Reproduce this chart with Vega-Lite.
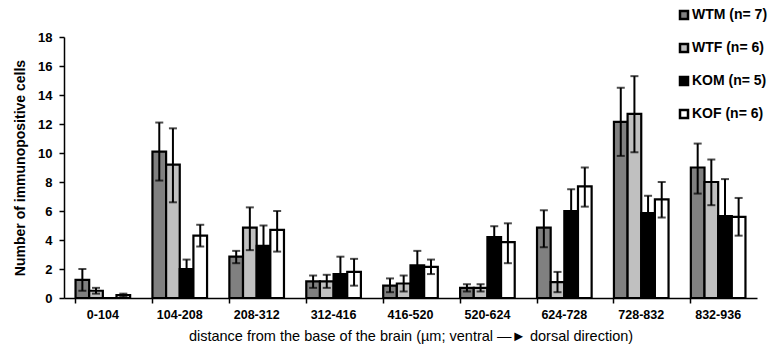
{
  "$schema": "https://vega.github.io/schema/vega-lite/v6.json",
  "autosize": "none",
  "width": 693,
  "height": 261,
  "padding": {"left": 64, "top": 37, "right": 19, "bottom": 56},
  "background": "white",
  "config": {
    "view": {"stroke": null},
    "font": "Liberation Sans",
    "axis": {"domainColor": "black", "tickColor": "black", "domainWidth": 1.5, "tickWidth": 1.5, "labelColor": "black", "titleColor": "black", "grid": false},
    "axisY": {"values": [0, 2, 4, 6, 8, 10, 12, 14, 16, 18], "labelOverlap": false, "labelFont": "Liberation Sans", "labelFontSize": 13, "labelFontWeight": "bold", "labelPadding": 7, "tickSize": 5, "titleFont": "Liberation Sans", "titleFontSize": 14, "titleFontWeight": "bold", "titlePadding": 10}
  },
  "data": {
    "values": [
      {"range": "0-104", "group": "WTM", "mean": 1.25, "lo": 0.5, "hi": 2.0},
      {"range": "0-104", "group": "WTF", "mean": 0.5, "lo": 0.3, "hi": 0.7},
      {"range": "0-104", "group": "KOM", "mean": 0, "lo": 0, "hi": 0},
      {"range": "0-104", "group": "KOF", "mean": 0.2, "lo": 0.1, "hi": 0.3},
      {"range": "104-208", "group": "WTM", "mean": 10.1, "lo": 8.1, "hi": 12.1},
      {"range": "104-208", "group": "WTF", "mean": 9.2, "lo": 6.6, "hi": 11.7},
      {"range": "104-208", "group": "KOM", "mean": 2.0, "lo": 1.35, "hi": 2.65},
      {"range": "104-208", "group": "KOF", "mean": 4.3, "lo": 3.55, "hi": 5.05},
      {"range": "208-312", "group": "WTM", "mean": 2.85, "lo": 2.4, "hi": 3.25},
      {"range": "208-312", "group": "WTF", "mean": 4.85, "lo": 3.3, "hi": 6.25},
      {"range": "208-312", "group": "KOM", "mean": 3.6, "lo": 2.2, "hi": 5.0},
      {"range": "208-312", "group": "KOF", "mean": 4.7, "lo": 3.2, "hi": 6.0},
      {"range": "312-416", "group": "WTM", "mean": 1.15, "lo": 0.7, "hi": 1.55},
      {"range": "312-416", "group": "WTF", "mean": 1.15, "lo": 0.7, "hi": 1.6},
      {"range": "312-416", "group": "KOM", "mean": 1.65, "lo": 0.45, "hi": 2.85},
      {"range": "312-416", "group": "KOF", "mean": 1.8, "lo": 0.85, "hi": 2.7},
      {"range": "416-520", "group": "WTM", "mean": 0.85, "lo": 0.4, "hi": 1.35},
      {"range": "416-520", "group": "WTF", "mean": 1.0, "lo": 0.45, "hi": 1.55},
      {"range": "416-520", "group": "KOM", "mean": 2.25, "lo": 1.25, "hi": 3.25},
      {"range": "416-520", "group": "KOF", "mean": 2.15, "lo": 1.65, "hi": 2.65},
      {"range": "520-624", "group": "WTM", "mean": 0.7, "lo": 0.45, "hi": 0.95},
      {"range": "520-624", "group": "WTF", "mean": 0.7, "lo": 0.45, "hi": 0.95},
      {"range": "520-624", "group": "KOM", "mean": 4.2, "lo": 3.4, "hi": 4.95},
      {"range": "520-624", "group": "KOF", "mean": 3.85, "lo": 2.4, "hi": 5.15},
      {"range": "624-728", "group": "WTM", "mean": 4.85, "lo": 3.5, "hi": 6.05},
      {"range": "624-728", "group": "WTF", "mean": 1.1, "lo": 0.4, "hi": 1.8},
      {"range": "624-728", "group": "KOM", "mean": 6.0, "lo": 4.5, "hi": 7.5},
      {"range": "624-728", "group": "KOF", "mean": 7.7, "lo": 6.3, "hi": 9.0},
      {"range": "728-832", "group": "WTM", "mean": 12.15, "lo": 9.8, "hi": 14.5},
      {"range": "728-832", "group": "WTF", "mean": 12.7, "lo": 10.05, "hi": 15.3},
      {"range": "728-832", "group": "KOM", "mean": 5.85, "lo": 4.65, "hi": 7.05},
      {"range": "728-832", "group": "KOF", "mean": 6.8, "lo": 5.55, "hi": 8.0},
      {"range": "832-936", "group": "WTM", "mean": 9.0, "lo": 7.2, "hi": 10.65},
      {"range": "832-936", "group": "WTF", "mean": 8.0, "lo": 6.4, "hi": 9.55},
      {"range": "832-936", "group": "KOM", "mean": 5.65, "lo": 3.1, "hi": 8.2},
      {"range": "832-936", "group": "KOF", "mean": 5.6, "lo": 4.3, "hi": 6.9}
    ]
  },
  "encoding": {
    "x": {
      "field": "range", "type": "nominal", "sort": null,
      "scale": {"paddingInner": 0.29, "paddingOuter": 0.15},
      "axis": {
        "title": "distance from the base of the brain (µm; ventral —► dorsal direction)",
        "titleFont": "Liberation Sans", "titleFontSize": 14.5, "titleFontWeight": "normal", "titlePadding": 9,
        "labelAngle": 0, "labelFont": "Liberation Sans", "labelFontSize": 12.5, "labelFontWeight": "bold", "labelPadding": 5,
        "tickSize": 5, "bandPosition": 0
      }
    },
    "xOffset": {"field": "group", "type": "nominal", "sort": ["WTM", "WTF", "KOM", "KOF"], "scale": {"paddingInner": 0, "paddingOuter": 0}}
  },
  "layer": [
    {
      "mark": {"type": "bar", "stroke": "black", "strokeWidth": 2.2},
      "encoding": {
        "y": {
          "field": "mean", "type": "quantitative",
          "scale": {"domain": [0, 18], "nice": false},
          "axis": {"title": "Number of immunopositive cells"}
        },
        "fill": {
          "field": "group", "type": "nominal",
          "scale": {"domain": ["WTM", "WTF", "KOM", "KOF"], "range": ["#808080", "#c0c0c0", "#000000", "#ffffff"]},
          "legend": {
            "orient": "none", "legendX": 613, "legendY": -29, "title": null,
            "symbolType": "square", "symbolSize": 64, "symbolStrokeColor": "black", "symbolStrokeWidth": 2.5,
            "labelFont": "Liberation Sans", "labelFontSize": 14, "labelFontWeight": "bold", "labelColor": "black",
            "labelOffset": 1, "rowPadding": 15,
            "labelExpr": "datum.label == 'WTM' ? 'WTM (n= 7)' : datum.label == 'WTF' ? 'WTF (n= 6)' : datum.label == 'KOM' ? 'KOM (n= 5)' : 'KOF (n= 6)'"
          }
        }
      }
    },
    {
      "mark": {"type": "rule", "color": "black", "strokeWidth": 2},
      "encoding": {
        "y": {"field": "lo", "type": "quantitative"},
        "y2": {"field": "hi"}
      }
    },
    {
      "mark": {"type": "tick", "color": "black", "thickness": 2, "size": 8},
      "encoding": {"y": {"field": "hi", "type": "quantitative"}}
    },
    {
      "mark": {"type": "tick", "color": "black", "thickness": 2, "size": 8},
      "encoding": {"y": {"field": "lo", "type": "quantitative"}}
    }
  ]
}
